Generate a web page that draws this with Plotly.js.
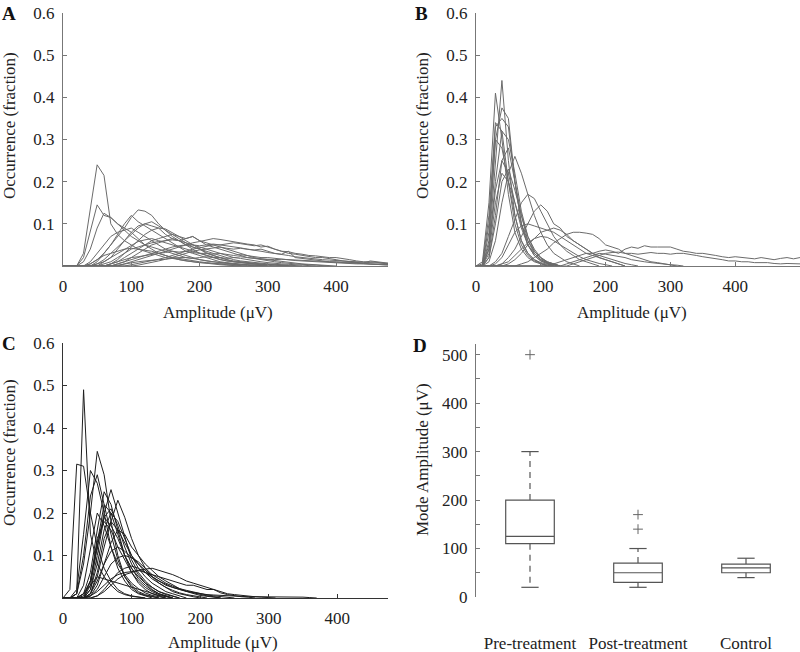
<!DOCTYPE html>
<html>
<head>
<meta charset="utf-8">
<script src="https://cdn.plot.ly/plotly-3.0.1.min.js"></script>
<style>html,body{margin:0;padding:0;background:#fff;}#chart{width:800px;height:652px;}</style>
</head>
<body>
<div id="chart"></div>
<script>
// Amplitude bins (µV)
const bins = [0,10,20,30,40,50,60,70,80,90,100,110,120,130,140,150,160,170,180,190,200,210,220,230,240,250,260,270,280,290,300,310,320,330,340,350,360,370,380,390,400,410,420,430,440,450,460,470,480,490,500];

// Panel A – pre-treatment amplitude distributions (fraction)
const A1 = [0,0,0,0.03,0.13,0.24,0.215,0.10,0.075,0.06,0.05,0.04,0.035,0.03,0.025,0.02,0.018,0.015,0.012,0.01,0.008,0.007,0.006,0.005,0.004,0.003,0.003,0.002,0.002,0.001,0];
const A2 = [0,0,0,0.02,0.08,0.145,0.12,0.115,0.10,0.085,0.07,0.06,0.05,0.045,0.04,0.035,0.03,0.025,0.02,0.018,0.015,0.012,0.01,0.008,0.006,0.005,0.004,0.003,0.002,0.001,0];
const A3 = [0,0,0,0.01,0.04,0.09,0.125,0.115,0.10,0.09,0.08,0.065,0.05,0.04,0.03,0.025,0.02,0.015,0.012,0.01,0.008,0.006,0.004,0.003,0.002,0.001,0];
const A4 = [0,0,0,0,0.005,0.015,0.03,0.05,0.07,0.09,0.115,0.133,0.13,0.12,0.10,0.085,0.07,0.06,0.05,0.04,0.03,0.025,0.02,0.015,0.012,0.01,0.008,0.006,0.005,0.004,0.003,0.002,0.001,0];
const A5 = [0,0,0,0,0,0.01,0.03,0.05,0.075,0.10,0.12,0.105,0.095,0.085,0.075,0.065,0.055,0.045,0.035,0.03,0.025,0.02,0.015,0.01,0.008,0.006,0.004,0.003,0.002,0.001,0];
const A6 = [0,0,0,0,0,0.005,0.015,0.03,0.045,0.06,0.075,0.09,0.1,0.105,0.095,0.085,0.075,0.065,0.055,0.045,0.04,0.035,0.03,0.025,0.02,0.015,0.012,0.01,0.008,0.006,0.005,0.004,0.003,0.002,0.001,0];
const A7 = [0,0,0,0,0,0,0.01,0.02,0.04,0.06,0.08,0.095,0.1,0.095,0.09,0.075,0.065,0.06,0.05,0.045,0.04,0.03,0.025,0.02,0.015,0.01,0.008,0.006,0.004,0.003,0.002,0];
const A8 = [0,0,0,0,0.01,0.03,0.05,0.07,0.08,0.085,0.09,0.08,0.07,0.06,0.05,0.04,0.035,0.03,0.025,0.02,0.015,0.012,0.01,0.008,0.006,0.004,0.003,0.002,0];
const A9 = [0,0,0,0,0,0,0,0.005,0.01,0.02,0.03,0.04,0.05,0.06,0.065,0.07,0.075,0.07,0.065,0.07,0.06,0.05,0.045,0.04,0.035,0.03,0.025,0.02,0.018,0.015,0.012,0.01,0.008,0.006,0.005,0.004,0.003,0.002,0.001,0];
const A10 = [0,0,0,0,0,0,0,0,0.005,0.01,0.02,0.03,0.04,0.05,0.055,0.06,0.065,0.06,0.065,0.07,0.06,0.055,0.05,0.045,0.04,0.035,0.03,0.025,0.02,0.017,0.015,0.012,0.01,0.008,0.006,0.005,0.004,0.003,0.002,0.001,0];
const A11 = [0,0,0,0,0,0,0,0,0,0.005,0.01,0.015,0.02,0.025,0.03,0.035,0.04,0.045,0.05,0.055,0.058,0.062,0.065,0.063,0.06,0.058,0.055,0.052,0.05,0.045,0.047,0.04,0.035,0.03,0.028,0.025,0.023,0.02,0.02,0.018,0.015,0.012,0.01,0.008,0.006,0.005,0.004,0.003,0.003];
const A12 = [0,0,0,0,0,0,0,0,0,0,0.003,0.006,0.01,0.013,0.016,0.02,0.025,0.03,0.035,0.04,0.043,0.046,0.05,0.05,0.052,0.055,0.053,0.05,0.048,0.05,0.045,0.04,0.035,0.034,0.03,0.028,0.025,0.024,0.022,0.02,0.02,0.018,0.015,0.012,0.01,0.01,0.008,0.007,0.006];
const A13 = [0,0,0,0,0,0,0,0,0.005,0.01,0.015,0.02,0.025,0.03,0.035,0.04,0.045,0.048,0.05,0.05,0.048,0.05,0.052,0.05,0.048,0.045,0.043,0.04,0.038,0.04,0.035,0.03,0.028,0.035,0.02,0.018,0.015,0.013,0.012,0.01,0.009,0.008,0.007,0.006,0.005,0.005,0.004,0.003,0.002];
const A14 = [0,0,0,0,0,0,0,0,0,0,0,0.002,0.005,0.008,0.012,0.016,0.02,0.025,0.03,0.035,0.038,0.04,0.043,0.045,0.042,0.04,0.042,0.04,0.038,0.035,0.032,0.03,0.028,0.025,0.022,0.02,0.018,0.016,0.015,0.014,0.013,0.012,0.01,0.009,0.008,0.008,0.007,0.006,0.005];
const A15 = [0,0,0,0,0,0,0,0.005,0.01,0.015,0.02,0.022,0.025,0.028,0.03,0.032,0.035,0.033,0.035,0.032,0.03,0.03,0.028,0.03,0.028,0.025,0.027,0.025,0.022,0.02,0.02,0.018,0.016,0.015,0.013,0.012,0.011,0.01,0.009,0.008,0.007,0.006,0.006,0.005,0.005,0.004,0.004,0.003,0.003];
const A16 = [0,0,0,0,0,0,0.005,0.01,0.02,0.03,0.04,0.045,0.05,0.055,0.058,0.06,0.062,0.06,0.055,0.05,0.045,0.04,0.035,0.03,0.025,0.02,0.018,0.015,0.012,0.01,0.008,0.006,0.005,0.004,0.003,0.002,0.001,0];
const A17 = [0,0,0,0,0.005,0.015,0.025,0.03,0.035,0.04,0.042,0.04,0.038,0.035,0.03,0.025,0.02,0.018,0.015,0.012,0.01,0.008,0.006,0.004,0.003,0.002,0.001,0];
const A18 = [0,0,0,0,0,0,0,0,0.002,0.005,0.008,0.01,0.012,0.014,0.015,0.016,0.018,0.02,0.02,0.018,0.02,0.022,0.02,0.02,0.018,0.02,0.022,0.02,0.018,0.017,0.016,0.015,0.016,0.015,0.014,0.013,0.012,0.012,0.011,0.01,0.01,0.009,0.008,0.008,0.007,0.012,0.01,0.008,0.006];
const A19 = [0,0,0,0,0,0,0,0.005,0.015,0.03,0.045,0.06,0.075,0.085,0.09,0.088,0.08,0.07,0.06,0.05,0.04,0.032,0.025,0.02,0.015,0.012,0.01,0.008,0.006,0.005,0.004,0.003,0.002,0.001,0];
const A20 = [0,0,0,0,0,0.005,0.01,0.02,0.03,0.04,0.05,0.058,0.062,0.065,0.06,0.055,0.05,0.045,0.04,0.035,0.03,0.025,0.02,0.016,0.012,0.01,0.008,0.006,0.005,0.004,0.003,0.002,0.001,0];

// Panel B – post-treatment
const B1 = [0,0.01,0.15,0.41,0.3,0.17,0.08,0.04,0.02,0.01,0.005,0.002,0];
const B2 = [0,0,0.05,0.25,0.44,0.25,0.12,0.06,0.03,0.015,0.008,0.004,0.002,0];
const B3 = [0,0,0.06,0.3,0.375,0.35,0.2,0.1,0.05,0.025,0.012,0.006,0.003,0];
const B4 = [0,0,0.1,0.33,0.35,0.33,0.2,0.1,0.05,0.025,0.012,0.006,0];
const B5 = [0,0.005,0.12,0.34,0.32,0.2,0.1,0.05,0.025,0.012,0.006,0];
const B6 = [0,0,0.08,0.3,0.28,0.2,0.12,0.06,0.03,0.015,0.006,0];
const B7 = [0,0,0.01,0.06,0.15,0.22,0.26,0.22,0.17,0.12,0.08,0.05,0.03,0.02,0.01,0.005,0];
const B8 = [0,0,0.04,0.18,0.25,0.22,0.15,0.09,0.05,0.03,0.015,0.008,0.004,0];
const B9 = [0,0,0.02,0.1,0.2,0.23,0.18,0.12,0.07,0.04,0.02,0.01,0.005,0];
const B10 = [0,0,0.03,0.15,0.22,0.2,0.15,0.1,0.06,0.035,0.02,0.01,0.005,0];
const B11 = [0,0,0,0.01,0.03,0.07,0.11,0.15,0.17,0.16,0.13,0.1,0.07,0.05,0.035,0.025,0.015,0.01,0.005,0];
const B12 = [0,0,0,0,0.005,0.02,0.04,0.07,0.1,0.13,0.145,0.13,0.1,0.09,0.07,0.06,0.05,0.04,0.03,0.02,0.015,0.01,0.005,0];
const B13 = [0,0,0,0.005,0.02,0.05,0.08,0.095,0.1,0.095,0.09,0.085,0.08,0.07,0.06,0.05,0.04,0.03,0.025,0.02,0.015,0.01,0.005,0];
const B14 = [0,0,0,0,0,0,0,0.005,0.01,0.02,0.03,0.04,0.055,0.065,0.075,0.08,0.08,0.078,0.075,0.065,0.05,0.045,0.04,0.03,0.025,0.02,0.015,0.01,0.008,0.005,0.003,0];
const B15 = [0,0,0,0,0,0,0,0,0,0,0,0,0.005,0.01,0.015,0.02,0.025,0.03,0.03,0.035,0.038,0.035,0.03,0.04,0.045,0.042,0.048,0.045,0.045,0.045,0.045,0.04,0.035,0.033,0.03,0.03,0.028,0.025,0.022,0.02,0.022,0.02,0.018,0.017,0.02,0.018,0.015,0.018,0.02,0.017,0.02];
const B16 = [0,0,0,0,0,0,0,0,0,0,0,0,0,0,0,0.005,0.01,0.015,0.02,0.025,0.03,0.032,0.033,0.03,0.03,0.028,0.03,0.032,0.03,0.03,0.028,0.03,0.03,0.028,0.025,0.022,0.02,0.018,0.015,0.012,0.012,0.01,0.01,0.008,0.008,0.008,0.006,0.005,0.006,0.006,0.005];
const B17 = [0,0,0,0,0,0.005,0.015,0.03,0.05,0.065,0.08,0.085,0.09,0.085,0.075,0.06,0.05,0.04,0.03,0.025,0.02,0.015,0.01,0.006,0.003,0];
const B18 = [0,0,0,0,0.005,0.01,0.025,0.04,0.055,0.065,0.07,0.068,0.06,0.05,0.04,0.03,0.022,0.015,0.01,0.006,0.003,0];
const B19 = [0,0,0,0,0,0,0,0,0,0,0,0,0,0,0.005,0.01,0.015,0.02,0.025,0.03,0.028,0.025,0.022,0.02,0.015,0.012,0.01,0.008,0.006,0.004,0.003,0.002,0];
const B20 = [0,0,0.04,0.2,0.32,0.3,0.22,0.13,0.07,0.035,0.018,0.009,0.004,0];
const B21 = [0,0,0.02,0.12,0.25,0.28,0.2,0.12,0.06,0.03,0.015,0.007,0];

// Panel C – control
const C1 = [0,0,0.01,0.49,0.15,0.08,0.05,0.03,0.015,0.008,0.004,0.002,0];
const C2 = [0,0.02,0.315,0.31,0.2,0.12,0.07,0.04,0.02,0.01,0.005,0.002,0];
const C3 = [0,0,0.01,0.08,0.2,0.345,0.29,0.18,0.1,0.05,0.025,0.012,0.006,0.003,0];
const C4 = [0,0,0.02,0.15,0.3,0.27,0.2,0.12,0.07,0.04,0.02,0.01,0.005,0];
const C5 = [0,0,0.01,0.1,0.24,0.29,0.22,0.15,0.09,0.05,0.03,0.015,0.008,0.004,0];
const C6 = [0,0,0,0.01,0.04,0.12,0.2,0.255,0.2,0.14,0.09,0.06,0.04,0.025,0.015,0.008,0.004,0];
const C7 = [0,0,0,0,0.01,0.05,0.12,0.18,0.23,0.19,0.14,0.1,0.07,0.05,0.035,0.025,0.015,0.01,0.006,0.003,0];
const C8 = [0,0,0,0.01,0.06,0.16,0.25,0.22,0.16,0.1,0.06,0.035,0.02,0.01,0.005,0];
const C9 = [0,0,0,0.005,0.04,0.13,0.22,0.2,0.15,0.1,0.07,0.045,0.03,0.018,0.01,0.005,0];
const C10 = [0,0,0,0,0.02,0.08,0.16,0.2,0.18,0.14,0.1,0.07,0.05,0.035,0.025,0.015,0.01,0.005,0];
const C11 = [0,0,0,0,0.03,0.12,0.19,0.17,0.14,0.1,0.07,0.05,0.035,0.025,0.015,0.01,0.005,0];
const C12 = [0,0,0,0,0.01,0.06,0.14,0.18,0.16,0.13,0.1,0.08,0.06,0.045,0.035,0.025,0.018,0.012,0.008,0.005,0.003,0];
const C13 = [0,0,0,0,0.005,0.03,0.08,0.13,0.16,0.15,0.12,0.1,0.08,0.065,0.05,0.04,0.03,0.022,0.016,0.012,0.008,0.005,0.003,0];
const C14 = [0,0,0,0,0,0.005,0.015,0.03,0.045,0.055,0.06,0.065,0.068,0.07,0.065,0.06,0.055,0.048,0.04,0.035,0.03,0.025,0.02,0.015,0.01,0.008,0.006,0.004,0.003,0.002,0.001,0];
const C15 = [0,0,0,0,0.005,0.015,0.03,0.045,0.055,0.06,0.062,0.065,0.06,0.055,0.05,0.045,0.04,0.035,0.03,0.03,0.025,0.02,0.02,0.012,0.008,0.005,0.003,0.002,0];
const C16 = [0,0,0,0,0.005,0.02,0.05,0.08,0.095,0.1,0.095,0.085,0.07,0.055,0.045,0.035,0.028,0.022,0.018,0.014,0.01,0.007,0.005,0.003,0.002,0];
const C17 = [0,0,0,0,0.01,0.04,0.08,0.11,0.12,0.11,0.095,0.08,0.065,0.05,0.04,0.032,0.025,0.02,0.015,0.01,0.006,0.004,0.002,0];
const C18 = [0,0,0,0.01,0.03,0.05,0.045,0.04,0.035,0.03,0.025,0.02,0.015,0.01,0.006,0.003,0];
const C19 = [0,0,0,0.03,0.12,0.2,0.17,0.12,0.08,0.055,0.035,0.022,0.012,0.006,0.003,0];
const C20 = [0,0,0,0,0.02,0.1,0.19,0.21,0.17,0.12,0.08,0.055,0.035,0.02,0.01,0.005,0];
const C21 = [0,0,0,0,0,0.005,0.02,0.04,0.06,0.07,0.075,0.07,0.06,0.05,0.04,0.03,0.025,0.02,0.016,0.013,0.01,0.008,0.007,0.006,0.005,0.004,0.004,0.003,0.003,0.003,0.003,0.002,0.002,0.002,0.003,0.002,0.001,0];
const C22 = [0,0,0,0,0.04,0.14,0.18,0.16,0.12,0.09,0.06,0.04,0.025,0.015,0.008,0.004,0];

// Panel D – mode amplitude (µV) box summaries
const groups = ['Pre-treatment','Post-treatment','Control'];
const groupPos = [1, 2, 3];
const q1 = [110, 30, 50];
const med = [125, 50, 60];
const q3 = [200, 70, 68];
const whiskerLo = [20, 20, 40];
const whiskerHi = [300, 100, 80];
const outlierGroup = [1, 2, 2];
const outlierVal = [500, 170, 140];

const curvesA = [A1,A2,A3,A4,A5,A6,A7,A8,A9,A10,A11,A12,A13,A14,A15,A16,A17,A18,A19,A20];
const curvesB = [B1,B2,B3,B4,B5,B6,B7,B8,B9,B10,B11,B12,B13,B14,B15,B16,B17,B18,B19,B20,B21];
const curvesC = [C1,C2,C3,C4,C5,C6,C7,C8,C9,C10,C11,C12,C13,C14,C15,C16,C17,C18,C19,C20,C21,C22];

const FONT = 'Liberation Serif, Times New Roman, serif';
const traces = [];
function addCurves(list, xa, ya, color){
  list.forEach(y => traces.push({
    type:'scatter', mode:'lines', x: bins.slice(0, y.length), y: y,
    xaxis: xa, yaxis: ya, line:{color: color, width: 1}, hoverinfo:'skip', showlegend:false
  }));
}
addCurves(curvesA, 'x', 'y', '#6b6b6b');
addCurves(curvesB, 'x2', 'y2', '#6b6b6b');
addCurves(curvesC, 'x3', 'y3', '#1e1e1e');

// Boxes (whiskers drawn separately, dashed)
groupPos.forEach((p, i) => {
  traces.push({type:'box', x:[p], q1:[q1[i]], median:[med[i]], q3:[q3[i]],
    lowerfence:[q1[i]], upperfence:[q3[i]], width:0.45, xaxis:'x4', yaxis:'y4',
    line:{color:'#555', width:1.2}, fillcolor:'rgba(0,0,0,0)', hoverinfo:'skip', showlegend:false, boxpoints:false});
  traces.push({type:'scatter', mode:'lines', x:[p, p, null, p, p], y:[q3[i], whiskerHi[i], null, q1[i], whiskerLo[i]],
    xaxis:'x4', yaxis:'y4', line:{color:'#555', width:1.2, dash:'6px,5px'}, hoverinfo:'skip', showlegend:false});
  const c = 0.08;
  traces.push({type:'scatter', mode:'lines', x:[p-c, p+c, null, p-c, p+c], y:[whiskerHi[i], whiskerHi[i], null, whiskerLo[i], whiskerLo[i]],
    xaxis:'x4', yaxis:'y4', line:{color:'#555', width:1.2}, hoverinfo:'skip', showlegend:false});
});
traces.push({type:'scatter', mode:'markers', x: outlierGroup, y: outlierVal, xaxis:'x4', yaxis:'y4',
  marker:{symbol:'cross-thin', size:7, line:{color:'#666', width:1}}, hoverinfo:'skip', showlegend:false});

const axBase = {showline:true, linecolor:'#777', linewidth:1, ticks:'inside', ticklen:4, tickcolor:'#777',
  showgrid:false, zeroline:false, tickfont:{family:FONT, size:17, color:'#222'}, fixedrange:true};
const yTicks = [0.1,0.2,0.3,0.4,0.5,0.6];
const xTicks = [0,100,200,300,400];

function ann(text, x, y, size, angle, bold){
  return {text: bold ? '<b>'+text+'</b>' : text, x: x/800, y: 1 - y/652, xref:'paper', yref:'paper',
    xanchor:'center', yanchor:'middle', showarrow:false, textangle: angle || 0,
    font:{family:FONT, size:size, color: bold ? '#111' : '#222'}};
}

const layout = {
  width:800, height:652, margin:{l:0,r:0,t:0,b:0}, paper_bgcolor:'#fff', plot_bgcolor:'#fff',
  showlegend:false, font:{family:FONT, color:'#222'},
  xaxis: Object.assign({}, axBase, {domain:[63/800, 388/800], range:[0,476], tickvals:xTicks, anchor:'y', ticklabelstandoff:5}),
  yaxis: Object.assign({}, axBase, {domain:[1-266/652, 1-13/652], range:[0,0.6], tickvals:yTicks, anchor:'x', ticklabelstandoff:4}),
  xaxis2: Object.assign({}, axBase, {domain:[476/800, 1], range:[0,500], tickvals:[0,100,200,300,400,500], ticktext:['0','100','200','300','400',''], anchor:'y2', ticklabelstandoff:5}),
  yaxis2: Object.assign({}, axBase, {domain:[1-266/652, 1-13/652], range:[0,0.6], tickvals:yTicks, anchor:'x2', ticklabelstandoff:4}),
  xaxis3: Object.assign({}, axBase, {domain:[63/800, 388/800], range:[0,474], tickvals:xTicks, anchor:'y3', ticklabelstandoff:5, linecolor:'#333', tickcolor:'#333'}),
  yaxis3: Object.assign({}, axBase, {domain:[1-598/652, 1-343/652], range:[0,0.6], tickvals:yTicks, anchor:'x3', ticklabelstandoff:4, linecolor:'#333', tickcolor:'#333'}),
  xaxis4: Object.assign({}, axBase, {domain:[476/800, 1], range:[0.5,3.5], tickvals:groupPos, ticktext:groups, anchor:'y4', showline:false, ticks:'', ticklabelstandoff:34}),
  yaxis4: Object.assign({}, axBase, {domain:[1-597/652, 1-344/652], range:[0,522],
    tickvals:[0,50,100,150,200,250,300,350,400,450,500], ticktext:['0','','100','','200','','300','','400','','500'], anchor:'x4', ticklabelstandoff:4}),
  annotations: [
    ann('A', 9, 14, 19, 0, true),
    ann('B', 421, 14, 19, 0, true),
    ann('C', 9, 344, 19, 0, true),
    ann('D', 420, 345, 19, 0, true),
    ann('Occurrence (fraction)', 9, 126, 17, -90),
    ann('Occurrence (fraction)', 422, 126, 17, -90),
    ann('Occurrence (fraction)', 9, 453, 17, -90),
    ann('Mode Amplitude (μV)', 422, 460, 17, -90),
    ann('Amplitude (μV)', 218, 312, 17, 0),
    ann('Amplitude (μV)', 632, 312, 17, 0),
    ann('Amplitude (μV)', 223, 642, 17, 0)
  ]
};

Plotly.newPlot('chart', traces, layout, {staticPlot:true, displayModeBar:false});
</script>
</body>
</html>
